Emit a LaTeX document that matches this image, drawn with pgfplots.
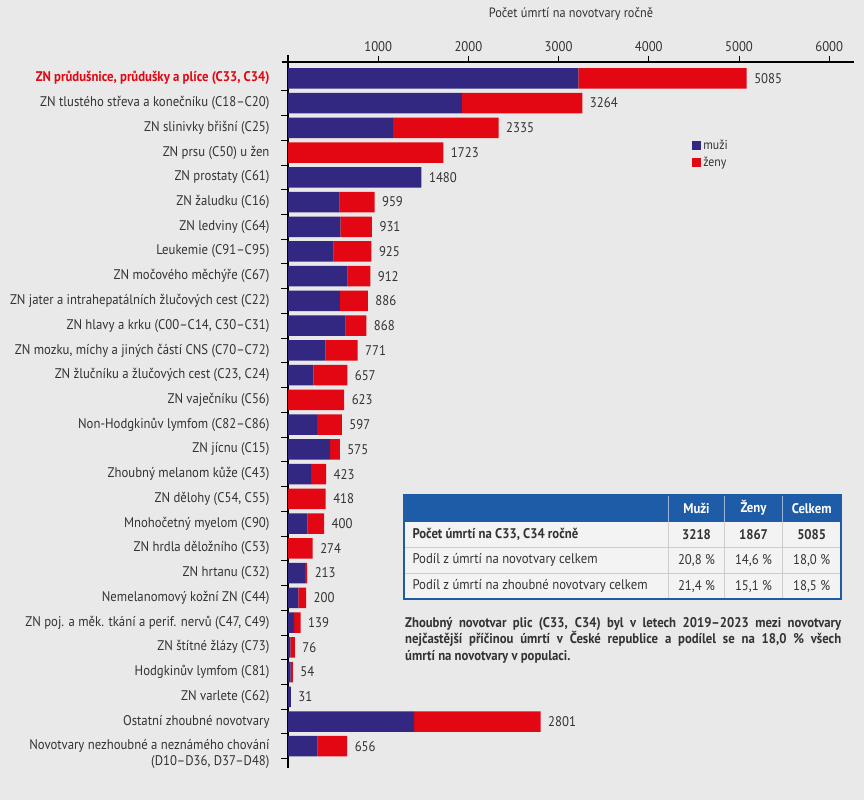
\documentclass[border=0pt]{standalone}
\usepackage{pgfplots}
\pgfplotsset{compat=1.18}
\usepackage{pgfplotstable}
\usepackage{fontspec}
\setmainfont{PT Sans}[FakeStretch=0.91]
\definecolor{muzi}{RGB}{50,40,130}
\definecolor{zeny}{RGB}{227,6,19}
\definecolor{bg}{RGB}{233,233,233}
\definecolor{txt}{RGB}{51,51,51}
\definecolor{tblue}{RGB}{30,92,168}
\definecolor{tline}{RGB}{205,205,205}
\definecolor{tcell}{RGB}{243,243,243}
\newcommand{\fs}{\fontsize{14}{16}\selectfont}

\pgfplotstableread{
y m w t
0 3218 1867 5085
-1 1927 1337 3264
-2 1162 1173 2335
-3 0 1723 1723
-4 1480 0 1480
-5 571 388 959
-6 582 349 931
-7 505 420 925
-8 662 250 912
-9 576 310 886
-10 639 229 868
-11 414 357 771
-12 281 376 657
-13 0 623 623
-14 322 275 597
-15 466 109 575
-16 255 168 423
-17 0 418 418
-18 214 186 400
-19 0 274 274
-20 188 25 213
-21 115 85 200
-22 67 72 139
-23 25 51 76
-24 30 24 54
-25 31 0 31
-26 1397 1404 2801
-27 329 327 656
}\data

\begin{document}
\begin{tikzpicture}
\useasboundingbox (0pt,0pt) rectangle (864pt,-800pt);
\fill[bg] (0pt,0pt) rectangle (864pt,-800pt);
\begin{axis}[
  at={(288pt,-62pt)}, anchor=north west,
  scale only axis, width=566pt, height=706pt,
  xmin=0, xmax=6275, ymin=-27.88, ymax=0.66,
  clip=false,
  xbar stacked, bar width=20.5pt,
  axis line style={draw=none},
  /pgf/number format/assume math mode=true,
  /pgf/number format/1000 sep={},
  tick align=outside,
  major tick length=6pt, minor tick length=7pt,
  xtick={1000,2000,...,6000},
  xtick pos=right, xticklabel pos=right,
  xticklabel style={font=\fs, text=txt, yshift=1pt},
  ytick={0,-1,...,-27},
  minor ytick={-0.5,-1.5,...,-27.5},
  ytick pos=left,
  major y tick style={draw=none},
  tick style={black, line width=0.8pt},
  yticklabel style={font=\fs, text=txt, xshift=-9pt},
  yticklabels={
    {\color{zeny}\bfseries ZN průdušnice, průdušky a plíce (C33, C34)},
    {ZN tlustého střeva a konečníku (C18–C20)},
    {ZN slinivky břišní (C25)},
    {ZN prsu (C50) u žen},
    {ZN prostaty (C61)},
    {ZN žaludku (C16)},
    {ZN ledviny (C64)},
    {Leukemie (C91–C95)},
    {ZN močového měchýře (C67)},
    {ZN jater a intrahepatálních žlučových cest (C22)},
    {ZN hlavy a krku (C00–C14, C30–C31)},
    {ZN mozku, míchy a jiných částí CNS (C70–C72)},
    {ZN žlučníku a žlučových cest (C23, C24)},
    {ZN vaječníku (C56)},
    {Non-Hodgkinův lymfom (C82–C86)},
    {ZN jícnu (C15)},
    {Zhoubný melanom kůže (C43)},
    {ZN dělohy (C54, C55)},
    {Mnohočetný myelom (C90)},
    {ZN hrdla děložního (C53)},
    {ZN hrtanu (C32)},
    {Nemelanomový kožní ZN (C44)},
    {ZN poj. a měk. tkání a perif. nervů (C47, C49)},
    {ZN štítné žlázy (C73)},
    {Hodgkinův lymfom (C81)},
    {ZN varlete (C62)},
    {Ostatní zhoubné novotvary},
    {\smash{\raisebox{-3.6pt}{\begin{tabular}[t]{@{}r@{}}Novotvary nezhoubné a neznámého chování\\[0pt](D10–D36, D37–D48)\end{tabular}}}}
  },
  legend style={at={(0.714,0.893)}, anchor=north west, draw=none, fill=none,
    font=\fontsize{13}{15}\selectfont, text=txt, row sep=2pt,
    inner sep=0pt, /tikz/every even column/.append style={column sep=2pt}},
  legend image code/.code={\fill[#1] (0pt,-4.5pt) rectangle (9pt,4.5pt);},
  legend cell align=left,
]
\addplot[fill=muzi, draw=none] table[x=m, y=y] {\data};
\addplot[fill=zeny, draw=none] table[x=w, y=y] {\data};
\addplot[draw=none, fill=none,
  nodes near coords, point meta=explicit,
  every node near coord/.append style={anchor=west, font=\fs, text=txt, xshift=4pt}]
  table[x expr=1, y=y, meta=t] {\data};
\legend{muži, ženy}
\draw[black, line width=1.3pt] ([xshift=-6pt]rel axis cs:0,1) -- (rel axis cs:1,1);
\draw[black, line width=1.3pt] ([yshift=7pt]rel axis cs:0,1) -- (rel axis cs:0,0);
\end{axis}
\node[font=\fontsize{13.5}{15}\selectfont, text=txt] at (571pt,-13.5pt) {Počet úmrtí na novotvary ročně};
% table
\fill[tcell] (404pt,-495pt) rectangle (841pt,-599pt);
\fill[tblue] (404pt,-495pt) rectangle (841pt,-521.7pt);
\draw[tline, line width=0.7pt] (404pt,-547.3pt) -- (841pt,-547.3pt);
\draw[tline, line width=0.7pt] (404pt,-573.3pt) -- (841pt,-573.3pt);
\foreach \xx in {668.7,724.3,782.7} {
  \draw[tline, line width=0.7pt] (\xx pt,-521.7pt) -- (\xx pt,-599pt);
  \draw[white!55!tblue, line width=0.7pt] (\xx pt,-495pt) -- (\xx pt,-521.7pt);
}
\draw[tblue, line width=2pt] (404pt,-495pt) rectangle (841pt,-599pt);
\begin{scope}[every node/.style={font=\fs, text=txt}]
\node[text=white, font=\fs\bfseries] at (696.5pt,-508.3pt) {Muži};
\node[text=white, font=\fs\bfseries] at (753.5pt,-508.3pt) {Ženy};
\node[text=white, font=\fs\bfseries] at (811.7pt,-508.3pt) {Celkem};
\node[anchor=west, font=\fs\bfseries] at (409pt,-534.5pt) {Počet úmrtí na C33, C34 ročně};
\node[font=\fs\bfseries] at (696.5pt,-534.5pt) {3218};
\node[font=\fs\bfseries] at (753.5pt,-534.5pt) {1867};
\node[font=\fs\bfseries] at (811.7pt,-534.5pt) {5085};
\node[anchor=west] at (409pt,-560.3pt) {Podíl z úmrtí na novotvary celkem};
\node at (696.5pt,-560.3pt) {20,8 \%};
\node at (753.5pt,-560.3pt) {14,6 \%};
\node at (811.7pt,-560.3pt) {18,0 \%};
\node[anchor=west] at (409pt,-586.3pt) {Podíl z úmrtí na zhoubné novotvary celkem};
\node at (696.5pt,-586.3pt) {21,4 \%};
\node at (753.5pt,-586.3pt) {15,1 \%};
\node at (811.7pt,-586.3pt) {18,5 \%};
\end{scope}
\node[anchor=north west, text width=436pt, align=justify, inner sep=0pt,
  font=\bfseries\fontsize{14}{16.5}\selectfont, text=txt] at (405pt,-617pt)
  {Zhoubný novotvar plic (C33, C34) byl v letech 2019–2023 mezi novotvary\linebreak nejčastější příčinou úmrtí v České republice a podílel se na 18,0 \% všech\linebreak úmrtí na novotvary v populaci.};
\end{tikzpicture}
\end{document}
